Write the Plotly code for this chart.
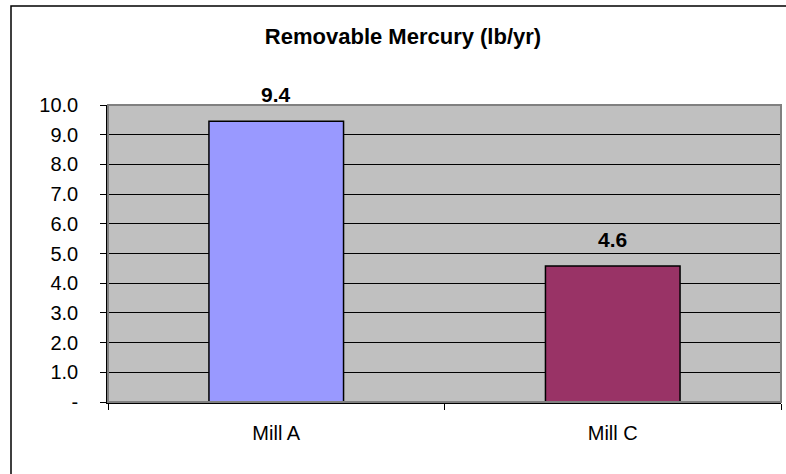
import plotly.graph_objects as go

categories = ["Mill A", "Mill C"]
values = [9.45, 4.58]
value_labels = ["9.4", "4.6"]
bar_colors = ["#9999FF", "#993366"]
y_tickvals = [0, 1, 2, 3, 4, 5, 6, 7, 8, 9, 10]
y_ticktext = ["-", "1.0", "2.0", "3.0", "4.0", "5.0", "6.0", "7.0", "8.0", "9.0", "10.0"]
title_text = "Removable Mercury (lb/yr)"

W, H = 786, 474
L, R, T, B = 108, 5, 105, 72
pw, ph = W - L - R, H - T - B

fig = go.Figure()
fig.add_trace(go.Bar(
    x=categories, y=values,
    marker=dict(color=bar_colors, line=dict(color="black", width=1.5)),
    width=0.4, hoverinfo="x+y",
))

for c, v, t in zip(categories, values, value_labels):
    fig.add_annotation(x=c, y=v, text="<b>%s</b>" % t, showarrow=False,
                       yanchor="bottom", yshift=13,
                       font=dict(family="Liberation Sans, Arial", size=21, color="black"))

# plot area border (gray top/right)
fig.add_shape(type="rect", xref="paper", yref="paper", x0=0, x1=1, y0=0, y1=1,
              line=dict(color="#808080", width=2), layer="above")
# outer chart frame
def px_x(p):
    return (p - L) / pw
def px_y(p):
    return (H - B - p) / ph
fig.add_shape(type="rect", xref="paper", yref="paper",
              x0=px_x(11), x1=px_x(790), y0=px_y(478), y1=px_y(6),
              line=dict(color="black", width=1.5), layer="above")

fig.update_layout(
    width=W, height=H,
    margin=dict(l=L, r=R, t=T, b=B),
    paper_bgcolor="white", plot_bgcolor="#C0C0C0",
    showlegend=False,
    font=dict(family="Liberation Sans, Arial", size=20, color="black"),
    title=dict(text="<b>%s</b>" % title_text, xref="container", yref="container",
               x=403 / W, xanchor="center", y=1 - 36 / H, yanchor="middle",
               font=dict(family="Liberation Sans, Arial", size=22, color="black")),
    bargap=0.6,
)
fig.update_yaxes(range=[0, 10], tickvals=y_tickvals, ticktext=y_ticktext,
                 showgrid=True, gridcolor="black", gridwidth=1,
                 showline=True, linecolor="black", linewidth=1.5,
                 ticks="outside", ticklen=6, tickcolor="black", tickwidth=1,
                 ticklabelstandoff=18, zeroline=False, fixedrange=True,
                 tickfont=dict(size=20))
fig.update_xaxes(showline=True, linecolor="black", linewidth=1.5,
                 ticks="outside", ticklen=6, tickcolor="black", tickwidth=1,
                 tickson="boundaries", showgrid=False, ticklabelstandoff=12,
                 tickfont=dict(size=20), fixedrange=True)

fig.write_html("out.html", config={"displayModeBar": False},
               post_script="document.body.style.margin='0';document.body.style.overflow='hidden';")
